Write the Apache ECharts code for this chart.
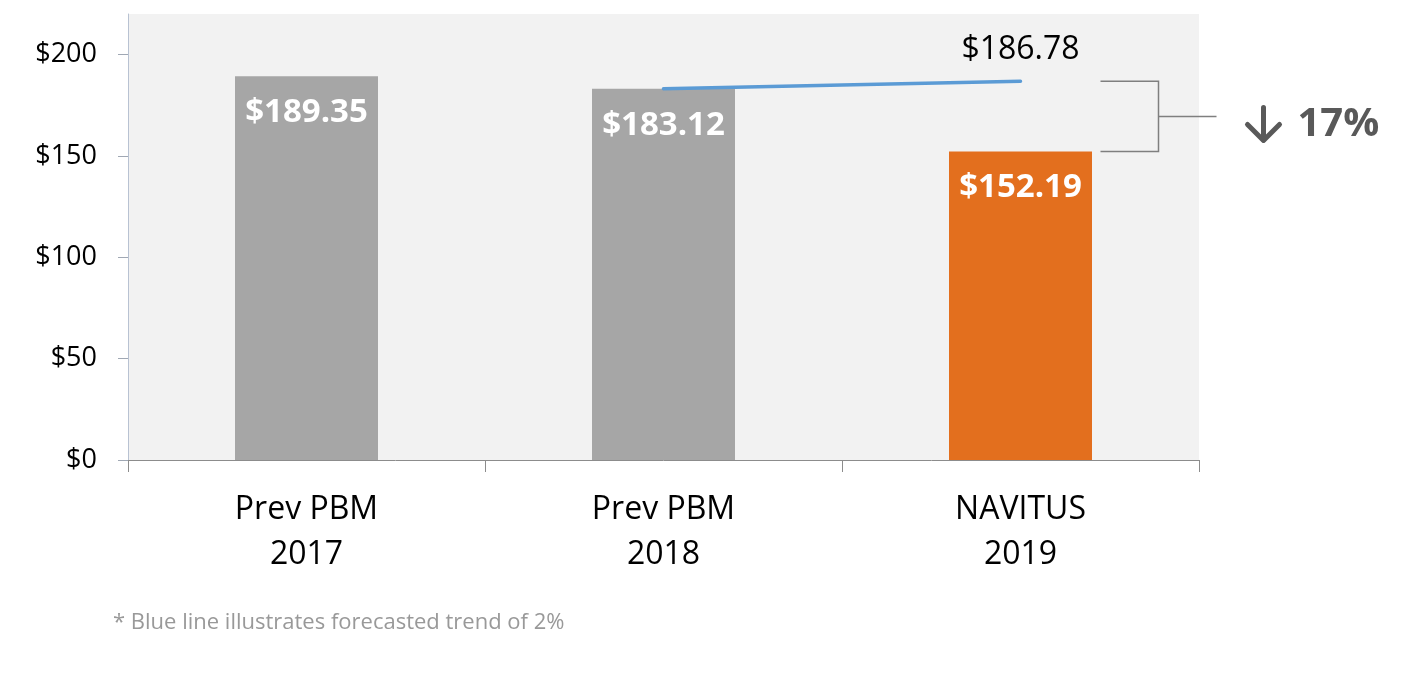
<!DOCTYPE html>
<html>
<head>
<meta charset="utf-8">
<title>PBM cost comparison</title>
<script src="https://cdn.jsdelivr.net/npm/echarts@6/dist/echarts.min.js"></script>
<style>
  html, body { margin: 0; padding: 0; background: #fff; }
  #chart { width: 1412px; height: 674px; }
</style>
</head>
<body>
<div id="chart"></div>
<script>
// data
const categories = ['Prev PBM\n2017', 'Prev PBM\n2018', 'NAVITUS\n2019']
const costValues = [189.35, 183.12, 152.19]
const trendValues = [null, 183.12, 186.78]
const barColors = ['#a6a6a6', '#a6a6a6', '#e36f1e']
const yTicks = [0, 50, 100, 150, 200]
const changeLabel = '17%'
const footnote = '* Blue line illustrates forecasted trend of 2%'

const FONT = '"Open Sans", "DejaVu Sans", sans-serif'
const fmtMoney = v => '$' + v.toFixed(2)

const myChart = echarts.init(document.getElementById('chart'))

const option = {
  backgroundColor: '#fff',
  animation: false,
  grid: {
    left: 128,
    right: 213,
    top: 14,
    bottom: 214,
    show: true,
    backgroundColor: '#f2f2f2',
    borderWidth: 0
  },
  xAxis: {
    type: 'category',
    data: categories,
    axisLine: { lineStyle: { color: '#8c8c8c', width: 1 } },
    axisTick: { show: true, length: 12, lineStyle: { color: '#8c8c8c' } },
    axisLabel: {
      color: '#000',
      fontFamily: FONT,
      fontSize: 32,
      lineHeight: 45,
      margin: 27
    },
    splitLine: { show: false }
  },
  yAxis: {
    type: 'value',
    min: 0,
    max: 220,
    interval: 50,
    axisLine: { show: true, lineStyle: { color: '#b8c2d2' } },
    axisTick: { show: true, length: 10, customValues: yTicks, lineStyle: { color: '#a0a8b4' } },
    axisLabel: {
      customValues: yTicks,
      color: '#000',
      fontFamily: FONT,
      fontSize: 27,
      margin: 31,
      formatter: v => '$' + v
    },
    splitLine: { show: false }
  },
  series: [
    {
      name: 'Cost',
      type: 'bar',
      barWidth: 143,
      data: costValues.map((v, i) => ({ value: v, itemStyle: { color: barColors[i] } })),
      label: {
        show: true,
        position: 'insideTop',
        distance: 20,
        color: '#fff',
        fontFamily: FONT,
        fontWeight: 'bold',
        fontSize: 33,
        formatter: p => fmtMoney(p.value)
      },
      z: 2
    },
    {
      name: 'Trend',
      type: 'line',
      data: trendValues,
      symbol: 'circle',
      symbolSize: 0,
      showSymbol: true,
      itemStyle: { color: '#5b9bd5' },
      lineStyle: { color: '#5b9bd5', width: 3.5, cap: 'round' },
      label: {
        show: true,
        position: 'top',
        distance: 15,
        color: '#000',
        fontFamily: FONT,
        fontSize: 32,
        formatter: p => (p.dataIndex === trendValues.length - 1 ? fmtMoney(p.value) : '')
      },
      z: 3
    }
  ]
}

myChart.setOption(option)

// bracket between the forecast end and the last bar
const last = categories.length - 1
const pTrend = myChart.convertToPixel({ seriesIndex: 1 }, [last, trendValues[last]])
const pBar = myChart.convertToPixel({ seriesIndex: 0 }, [last, costValues[last]])
const bx0 = pBar[0] + 80
const bx1 = pBar[0] + 138
const bx2 = pBar[0] + 196
const midY = (pTrend[1] + pBar[1]) / 2
const lineStyle = { stroke: '#7f7f7f', lineWidth: 1.5 }
const arrowX = bx2 + 47
const arrowStyle = { stroke: '#595959', lineWidth: 5, fill: null, lineCap: 'round', lineJoin: 'round' }

myChart.setOption({
  graphic: [
    {
      type: 'polyline',
      shape: { points: [[bx0, pTrend[1]], [bx1, pTrend[1]], [bx1, pBar[1]], [bx0, pBar[1]]] },
      style: Object.assign({ fill: null }, lineStyle),
      silent: true
    },
    {
      type: 'line',
      shape: { x1: bx1, y1: midY, x2: bx2, y2: midY },
      style: lineStyle,
      silent: true
    },
    // down arrow
    {
      type: 'line',
      shape: { x1: arrowX, y1: midY - 9, x2: arrowX, y2: midY + 23 },
      style: arrowStyle,
      silent: true
    },
    {
      type: 'polyline',
      shape: { points: [[arrowX - 16, midY + 8], [arrowX, midY + 24], [arrowX + 16, midY + 8]] },
      style: arrowStyle,
      silent: true
    },
    {
      type: 'text',
      x: bx2 + 81,
      y: midY + 8,
      style: {
        text: changeLabel,
        fill: '#595959',
        font: 'bold 40px ' + FONT,
        verticalAlign: 'middle',
        align: 'left'
      },
      silent: true
    },
    {
      type: 'text',
      left: 113,
      top: 612,
      style: {
        text: footnote,
        fill: '#999999',
        font: '22px ' + FONT
      },
      silent: true
    }
  ]
})

window.addEventListener('resize', () => myChart.resize())
</script>
</body>
</html>
